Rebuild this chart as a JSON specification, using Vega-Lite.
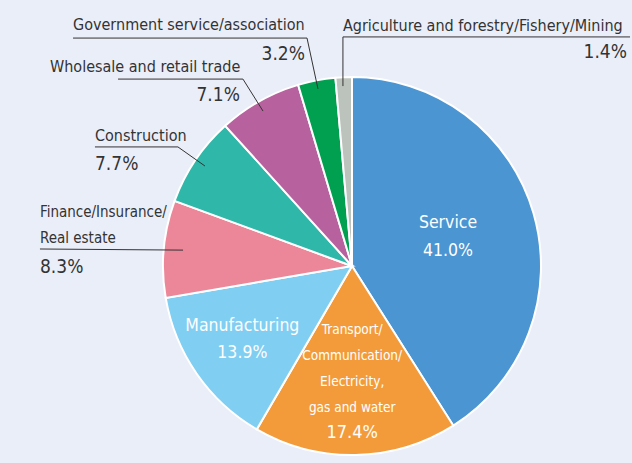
{
  "$schema": "https://vega.github.io/schema/vega-lite/v6.json",
  "width": 378,
  "height": 378,
  "autosize": {"type": "none"},
  "padding": {"left": 163, "top": 77, "right": 91, "bottom": 8},
  "background": "#eaeef9",
  "config": {
    "view": {"stroke": null},
    "text": {"font": "'DejaVu Sans Condensed', 'Liberation Sans Narrow', sans-serif"}
  },
  "data": {
    "values": [
      {"category": "Service", "label": "Service", "share": 41.0, "rank": 1},
      {"category": "Transport", "label": "Transport/\nCommunication/\nElectricity,\ngas and water", "share": 17.4, "rank": 2},
      {"category": "Manufacturing", "label": "Manufacturing", "share": 13.9, "rank": 3},
      {"category": "Finance", "label": "Finance/Insurance/\nReal estate", "share": 8.3, "rank": 4},
      {"category": "Construction", "label": "Construction", "share": 7.7, "rank": 5},
      {"category": "Wholesale", "label": "Wholesale and retail trade", "share": 7.1, "rank": 6},
      {"category": "Government", "label": "Government service/association", "share": 3.2, "rank": 7},
      {"category": "Agriculture", "label": "Agriculture and forestry/Fishery/Mining", "share": 1.4, "rank": 8}
    ]
  },
  "transform": [
    {"stack": "share", "groupby": [], "sort": [{"field": "rank", "order": "ascending"}], "as": ["t0", "t1"]},
    {"calculate": "(datum.t0 + datum.t1) / 2", "as": "tmid"},
    {"calculate": "format(datum.share, '.1f') + '%'", "as": "pct"},
    {"calculate": "datum.label + '\\n' + datum.pct", "as": "full"}
  ],
  "layer": [
    {
      "mark": {"type": "arc", "outerRadius": 189, "stroke": "white", "strokeWidth": 2},
      "encoding": {
        "theta": {"field": "t0", "type": "quantitative", "stack": null, "scale": {"domain": [0, 100]}},
        "theta2": {"field": "t1"},
        "color": {
          "field": "category", "type": "nominal", "legend": null,
          "scale": {
            "domain": ["Service", "Transport", "Manufacturing", "Finance", "Construction", "Wholesale", "Government", "Agriculture"],
            "range": ["#4a95d2", "#f39b3a", "#80cef2", "#ec8699", "#2fb7a9", "#b7619f", "#00a050", "#bcc3bc"]
          }
        }
      }
    },
    {
      "transform": [{"filter": "datum.category === 'Service'"}],
      "mark": {"type": "text", "radius": 100, "dy": -15, "fontSize": 17.5, "color": "white", "lineBreak": "\n", "lineHeight": 28, "baseline": "middle", "align": "center"},
      "encoding": {
        "theta": {"field": "tmid", "type": "quantitative", "stack": null, "scale": {"domain": [0, 100]}},
        "text": {"field": "full"}
      }
    },
    {
      "transform": [{"filter": "datum.category === 'Manufacturing'"}],
      "mark": {"type": "text", "radius": 131, "dy": -15, "dx": -2, "fontSize": 17.5, "color": "white", "lineBreak": "\n", "lineHeight": 27, "baseline": "middle", "align": "center"},
      "encoding": {
        "theta": {"field": "tmid", "type": "quantitative", "stack": null, "scale": {"domain": [0, 100]}},
        "text": {"field": "full"}
      }
    },
    {
      "transform": [{"filter": "datum.category === 'Transport'"}],
      "mark": {"type": "text", "radius": 64, "dx": -1, "fontSize": 13.5, "color": "white", "lineBreak": "\n", "lineHeight": 26, "baseline": "middle", "align": "center"},
      "encoding": {
        "theta": {"field": "tmid", "type": "quantitative", "stack": null, "scale": {"domain": [0, 100]}},
        "text": {"field": "label"}
      }
    },
    {
      "transform": [{"filter": "datum.category === 'Transport'"}],
      "mark": {"type": "text", "radius": 167, "dx": -3, "fontSize": 18, "color": "white", "baseline": "middle", "align": "center"},
      "encoding": {
        "theta": {"field": "tmid", "type": "quantitative", "stack": null, "scale": {"domain": [0, 100]}},
        "text": {"field": "pct"}
      }
    },
    {
      "transform": [{"filter": "datum.category === 'Finance'"}],
      "mark": {"type": "rule", "color": "#333333", "strokeWidth": 1},
      "encoding": {
        "x": {"datum": -1.651, "type": "quantitative", "scale": {"domain": [-1, 1], "nice": false, "zero": false}, "axis": null},
        "y": {"datum": 0.09, "type": "quantitative", "scale": {"domain": [-1, 1], "nice": false, "zero": false}, "axis": null},
        "x2": {"datum": -0.894},
        "y2": {"datum": 0.084}
      }
    },
    {
      "transform": [{"filter": "datum.category === 'Construction'"}],
      "mark": {"type": "rule", "color": "#333333", "strokeWidth": 1},
      "encoding": {
        "x": {"datum": -1.36, "type": "quantitative"},
        "y": {"datum": 0.63, "type": "quantitative"},
        "x2": {"datum": -0.921},
        "y2": {"datum": 0.63}
      }
    },
    {
      "transform": [{"filter": "datum.category === 'Construction'"}],
      "mark": {"type": "rule", "color": "#333333", "strokeWidth": 1},
      "encoding": {
        "x": {"datum": -0.921, "type": "quantitative"},
        "y": {"datum": 0.63, "type": "quantitative"},
        "x2": {"datum": -0.778},
        "y2": {"datum": 0.529}
      }
    },
    {
      "transform": [{"filter": "datum.category === 'Wholesale'"}],
      "mark": {"type": "rule", "color": "#333333", "strokeWidth": 1},
      "encoding": {
        "x": {"datum": -1.238, "type": "quantitative"},
        "y": {"datum": 0.989, "type": "quantitative"},
        "x2": {"datum": -0.577},
        "y2": {"datum": 0.989}
      }
    },
    {
      "transform": [{"filter": "datum.category === 'Wholesale'"}],
      "mark": {"type": "rule", "color": "#333333", "strokeWidth": 1},
      "encoding": {
        "x": {"datum": -0.577, "type": "quantitative"},
        "y": {"datum": 0.989, "type": "quantitative"},
        "x2": {"datum": -0.471},
        "y2": {"datum": 0.82}
      }
    },
    {
      "transform": [{"filter": "datum.category === 'Government'"}],
      "mark": {"type": "rule", "color": "#333333", "strokeWidth": 1},
      "encoding": {
        "x": {"datum": -1.476, "type": "quantitative"},
        "y": {"datum": 1.206, "type": "quantitative"},
        "x2": {"datum": -0.238},
        "y2": {"datum": 1.206}
      }
    },
    {
      "transform": [{"filter": "datum.category === 'Government'"}],
      "mark": {"type": "rule", "color": "#333333", "strokeWidth": 1},
      "encoding": {
        "x": {"datum": -0.238, "type": "quantitative"},
        "y": {"datum": 1.206, "type": "quantitative"},
        "x2": {"datum": -0.18},
        "y2": {"datum": 0.937}
      }
    },
    {
      "transform": [{"filter": "datum.category === 'Agriculture'"}],
      "mark": {"type": "rule", "color": "#333333", "strokeWidth": 1},
      "encoding": {
        "x": {"datum": 1.471, "type": "quantitative"},
        "y": {"datum": 1.212, "type": "quantitative"},
        "x2": {"datum": -0.048},
        "y2": {"datum": 1.212}
      }
    },
    {
      "transform": [{"filter": "datum.category === 'Agriculture'"}],
      "mark": {"type": "rule", "color": "#333333", "strokeWidth": 1},
      "encoding": {
        "x": {"datum": -0.048, "type": "quantitative"},
        "y": {"datum": 1.212, "type": "quantitative"},
        "x2": {"datum": -0.048},
        "y2": {"datum": 0.952}
      }
    },
    {
      "transform": [{"filter": "datum.category === 'Government'"}],
      "mark": {"type": "text", "fontSize": 16, "color": "#333333", "align": "left", "baseline": "alphabetic"},
      "encoding": {
        "x": {"datum": -1.476, "type": "quantitative"},
        "y": {"datum": 1.249, "type": "quantitative"},
        "text": {"field": "label"}
      }
    },
    {
      "transform": [{"filter": "datum.category === 'Government'"}],
      "mark": {"type": "text", "fontSize": 19, "color": "#333333", "align": "right", "baseline": "alphabetic"},
      "encoding": {
        "x": {"datum": -0.249, "type": "quantitative"},
        "y": {"datum": 1.09, "type": "quantitative"},
        "text": {"field": "pct"}
      }
    },
    {
      "transform": [{"filter": "datum.category === 'Wholesale'"}],
      "mark": {"type": "text", "fontSize": 16, "color": "#333333", "align": "left", "baseline": "alphabetic"},
      "encoding": {
        "x": {"datum": -1.598, "type": "quantitative"},
        "y": {"datum": 1.026, "type": "quantitative"},
        "text": {"field": "label"}
      }
    },
    {
      "transform": [{"filter": "datum.category === 'Wholesale'"}],
      "mark": {"type": "text", "fontSize": 19, "color": "#333333", "align": "right", "baseline": "alphabetic"},
      "encoding": {
        "x": {"datum": -0.593, "type": "quantitative"},
        "y": {"datum": 0.873, "type": "quantitative"},
        "text": {"field": "pct"}
      }
    },
    {
      "transform": [{"filter": "datum.category === 'Construction'"}],
      "mark": {"type": "text", "fontSize": 16, "color": "#333333", "align": "left", "baseline": "alphabetic"},
      "encoding": {
        "x": {"datum": -1.36, "type": "quantitative"},
        "y": {"datum": 0.661, "type": "quantitative"},
        "text": {"field": "label"}
      }
    },
    {
      "transform": [{"filter": "datum.category === 'Construction'"}],
      "mark": {"type": "text", "fontSize": 19, "color": "#333333", "align": "left", "baseline": "alphabetic"},
      "encoding": {
        "x": {"datum": -1.36, "type": "quantitative"},
        "y": {"datum": 0.508, "type": "quantitative"},
        "text": {"field": "pct"}
      }
    },
    {
      "transform": [{"filter": "datum.category === 'Finance'"}],
      "mark": {"type": "text", "fontSize": 15, "color": "#333333", "align": "left", "baseline": "alphabetic", "lineBreak": "\n", "lineHeight": 26},
      "encoding": {
        "x": {"datum": -1.651, "type": "quantitative"},
        "y": {"datum": 0.259, "type": "quantitative"},
        "text": {"field": "label"}
      }
    },
    {
      "transform": [{"filter": "datum.category === 'Finance'"}],
      "mark": {"type": "text", "fontSize": 19, "color": "#333333", "align": "left", "baseline": "alphabetic"},
      "encoding": {
        "x": {"datum": -1.651, "type": "quantitative"},
        "y": {"datum": -0.037, "type": "quantitative"},
        "text": {"field": "pct"}
      }
    },
    {
      "transform": [{"filter": "datum.category === 'Agriculture'"}],
      "mark": {"type": "text", "fontSize": 16, "color": "#333333", "align": "left", "baseline": "alphabetic"},
      "encoding": {
        "x": {"datum": -0.048, "type": "quantitative"},
        "y": {"datum": 1.243, "type": "quantitative"},
        "text": {"field": "label"}
      }
    },
    {
      "transform": [{"filter": "datum.category === 'Agriculture'"}],
      "mark": {"type": "text", "fontSize": 19, "color": "#333333", "align": "right", "baseline": "alphabetic"},
      "encoding": {
        "x": {"datum": 1.455, "type": "quantitative"},
        "y": {"datum": 1.101, "type": "quantitative"},
        "text": {"field": "pct"}
      }
    }
  ]
}
